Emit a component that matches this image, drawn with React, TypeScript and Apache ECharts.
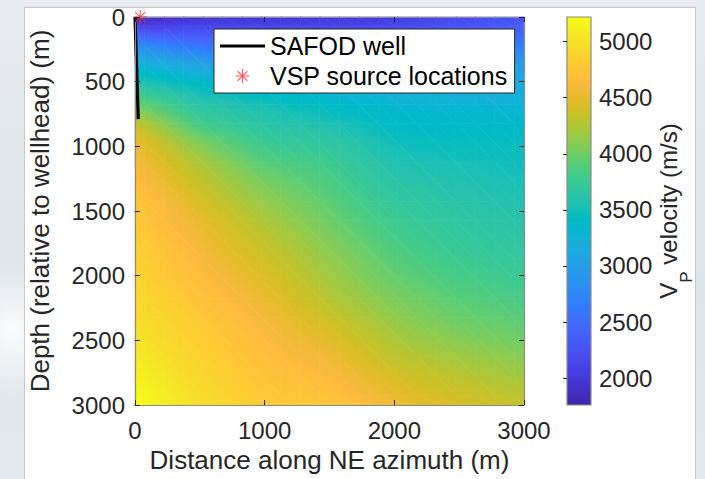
import React, { useEffect, useRef } from "react";
import * as echarts from "echarts";

// ---------- data ----------
// grid nodes (m): plot edges plus sample centres
const xNodes = [0, 75, 225, 375, 525, 675, 825, 975, 1125, 1275, 1425, 1575, 1725, 1875, 2025, 2175, 2325, 2475, 2625, 2775, 2925, 3000];
const depthNodes = [0, 75, 225, 375, 525, 675, 825, 975, 1125, 1275, 1425, 1575, 1725, 1875, 2025, 2175, 2325, 2475, 2625, 2775, 2925, 3000];

// P-wave velocity (m/s): one row per depth node, one column per x node
const velocity: number[][] = [
  [1800, 1850, 1900, 1930, 1950, 1960, 1960, 1960, 1960, 1970, 1970, 1980, 1990, 2000, 2030, 2070, 2110, 2150, 2190, 2220, 2250, 2260],
  [2150, 2100, 2110, 2120, 2120, 2120, 2120, 2110, 2110, 2120, 2120, 2130, 2140, 2150, 2170, 2190, 2220, 2250, 2270, 2300, 2330, 2360],
  [2820, 2780, 2710, 2650, 2590, 2560, 2530, 2500, 2490, 2490, 2490, 2490, 2500, 2510, 2520, 2550, 2570, 2600, 2620, 2650, 2670, 2690],
  [3270, 3240, 3180, 3130, 3080, 3060, 3040, 3010, 3010, 3010, 3010, 3010, 3010, 3010, 3010, 3010, 3010, 3010, 3020, 3020, 3030, 3030],
  [3610, 3580, 3520, 3460, 3400, 3360, 3310, 3260, 3240, 3230, 3210, 3200, 3190, 3180, 3180, 3170, 3170, 3160, 3160, 3150, 3150, 3150],
  [3990, 3930, 3820, 3710, 3610, 3580, 3540, 3510, 3470, 3430, 3400, 3370, 3340, 3320, 3300, 3290, 3290, 3280, 3280, 3270, 3270, 3260],
  [4340, 4250, 4090, 3930, 3790, 3740, 3690, 3630, 3600, 3580, 3550, 3520, 3470, 3430, 3390, 3380, 3370, 3360, 3360, 3350, 3350, 3350],
  [4540, 4460, 4320, 4180, 4050, 3950, 3860, 3770, 3730, 3710, 3690, 3650, 3590, 3530, 3480, 3460, 3450, 3440, 3440, 3440, 3440, 3440],
  [4610, 4550, 4440, 4320, 4210, 4110, 4010, 3910, 3870, 3840, 3800, 3750, 3680, 3610, 3550, 3540, 3520, 3510, 3500, 3490, 3480, 3480],
  [4690, 4630, 4530, 4420, 4310, 4220, 4130, 4050, 3990, 3930, 3880, 3820, 3750, 3680, 3620, 3600, 3580, 3560, 3550, 3530, 3520, 3510],
  [4760, 4710, 4610, 4510, 4410, 4320, 4230, 4150, 4080, 4020, 3960, 3890, 3820, 3750, 3690, 3670, 3640, 3610, 3600, 3580, 3570, 3560],
  [4790, 4740, 4660, 4580, 4500, 4410, 4330, 4250, 4170, 4100, 4030, 3960, 3890, 3820, 3760, 3730, 3700, 3670, 3650, 3630, 3620, 3610],
  [4820, 4780, 4700, 4630, 4550, 4480, 4400, 4330, 4250, 4180, 4100, 4030, 3960, 3890, 3830, 3790, 3750, 3720, 3700, 3680, 3670, 3660],
  [4850, 4810, 4740, 4670, 4610, 4540, 4470, 4400, 4330, 4250, 4170, 4100, 4030, 3960, 3890, 3850, 3810, 3770, 3750, 3730, 3720, 3710],
  [4880, 4840, 4780, 4720, 4660, 4600, 4540, 4480, 4400, 4320, 4240, 4160, 4090, 4020, 3960, 3920, 3880, 3840, 3820, 3800, 3770, 3760],
  [4920, 4890, 4830, 4770, 4710, 4660, 4600, 4540, 4470, 4390, 4310, 4230, 4170, 4100, 4040, 4000, 3950, 3910, 3890, 3870, 3850, 3840],
  [4960, 4930, 4870, 4820, 4760, 4700, 4650, 4590, 4530, 4460, 4400, 4330, 4260, 4190, 4120, 4070, 4030, 3980, 3960, 3940, 3920, 3910],
  [5000, 4970, 4910, 4860, 4800, 4750, 4690, 4640, 4590, 4540, 4490, 4430, 4350, 4280, 4210, 4160, 4120, 4080, 4050, 4030, 4000, 3990],
  [5060, 5030, 4970, 4900, 4840, 4790, 4740, 4690, 4650, 4610, 4570, 4520, 4450, 4370, 4300, 4270, 4230, 4190, 4160, 4130, 4100, 4090],
  [5140, 5100, 5030, 4950, 4880, 4830, 4780, 4730, 4700, 4680, 4650, 4600, 4540, 4470, 4410, 4370, 4330, 4290, 4260, 4240, 4210, 4200],
  [5210, 5170, 5080, 5000, 4920, 4870, 4820, 4770, 4750, 4740, 4720, 4680, 4630, 4570, 4510, 4460, 4420, 4390, 4360, 4330, 4300, 4290],
  [5230, 5190, 5100, 5020, 4940, 4890, 4840, 4790, 4770, 4760, 4750, 4720, 4670, 4610, 4550, 4510, 4480, 4440, 4410, 4380, 4350, 4330],
];

const xTickValues = [0, 1000, 2000, 3000];
const depthTickValues = [0, 500, 1000, 1500, 2000, 2500, 3000];
const colorbarTicks = [2000, 2500, 3000, 3500, 4000, 4500, 5000];
const colorMin = 1760;
const colorMax = 5220;

// SAFOD well trace
const wellX = [0, 25];
const wellDepth = [0, 790];
// VSP source locations
const vspX = [40];
const vspDepth = [0];

// MATLAB parula colormap (64 entries)
const parula = [
  "#3e26a8", "#402ab4", "#422ec0", "#4332cb", "#4537d5", "#463cde", "#4741e5", "#4747eb",
  "#484df0", "#4852f4", "#4758f8", "#465efb", "#4563fd", "#4269fe", "#3e6fff", "#3875fe",
  "#327cfc", "#2f81fa", "#2e87f7", "#2d8cf3", "#2b91ef", "#2797eb", "#259be8", "#23a0e5",
  "#20a5e3", "#1ca9df", "#18addb", "#12b1d6", "#08b5d0", "#01b8ca", "#02bac3", "#0bbdbd",
  "#19bfb6", "#24c1ae", "#2cc4a7", "#31c69f", "#37c897", "#3fca8e", "#4acb84", "#57cc7a",
  "#64cd6f", "#72cd64", "#81cc59", "#8fcb4e", "#9dc943", "#abc739", "#b9c431", "#c5c22a",
  "#d1bf27", "#dcbd29", "#e6bb2d", "#f0ba36", "#f8ba3d", "#febe3c", "#fec338", "#fec934",
  "#fccf30", "#fad62d", "#f7dc2a", "#f5e327", "#f5e924", "#f6ef20", "#f7f51b", "#f9fb15",
];

const FONT = "'Liberation Sans', Arial, Helvetica, sans-serif";
const TEXT = "#262626";
const FRAME = "#8c8c8c";
const ASTERISK =
  "path://M0 9.2H20V10.8H0Z M9.2 0H10.8V20H9.2Z M3.5 2.36L17.64 16.5L16.5 17.64L2.36 3.5Z M16.5 2.36L17.64 3.5L3.5 17.64L2.36 16.5Z";

function hexToRgb(h: string) {
  return [parseInt(h.slice(1, 3), 16), parseInt(h.slice(3, 5), 16), parseInt(h.slice(5, 7), 16)];
}
function colorAt(v: number) {
  const t = Math.max(0, Math.min(1, (v - colorMin) / (colorMax - colorMin))) * (parula.length - 1);
  const i = Math.min(parula.length - 2, Math.floor(t));
  const f = t - i;
  const a = hexToRgb(parula[i]);
  const b = hexToRgb(parula[i + 1]);
  return `rgb(${a.map((c, k) => Math.round(c + (b[k] - c) * f)).join(",")})`;
}

const shadeStops = parula.map((c, i) => ({ offset: i / (parula.length - 1), color: c }));

// linear shading of one triangle (pixel coords + values), mapped through the colormap
function shadedTriangle(p: number[][], v: number[]) {
  const [x1, y1] = p[0], [x2, y2] = p[1], [x3, y3] = p[2];
  const det = (x2 - x1) * (y3 - y1) - (x3 - x1) * (y2 - y1);
  let fill: any;
  if (Math.abs(det) < 1e-9) {
    fill = colorAt(v[0]);
  } else {
    const gx = ((v[1] - v[0]) * (y3 - y1) - (v[2] - v[0]) * (y2 - y1)) / det;
    const gy = ((x2 - x1) * (v[2] - v[0]) - (x3 - x1) * (v[1] - v[0])) / det;
    const g2 = gx * gx + gy * gy;
    if (g2 < 1e-6) {
      fill = colorAt((v[0] + v[1] + v[2]) / 3);
    } else {
      const s = (colorMin - v[0]) / g2;
      const e = (colorMax - v[0]) / g2;
      fill = {
        type: "linear", global: true,
        x: x1 + s * gx, y: y1 + s * gy, x2: x1 + e * gx, y2: y1 + e * gy,
        colorStops: shadeStops,
      };
    }
  }
  return {
    type: "polygon",
    shape: { points: p },
    style: { fill, stroke: fill, lineWidth: 0.7 },
  };
}

function buildOption() {
  const quads: number[][] = [];
  for (let i = 0; i < depthNodes.length - 1; i++) {
    for (let j = 0; j < xNodes.length - 1; j++) {
      quads.push([xNodes[j], depthNodes[i], velocity[i][j], i, j]);
    }
  }
  const wellData = wellX.map((x, i) => [x, wellDepth[i]]);
  const vspData = vspX.map((x, i) => [x, vspDepth[i]]);

  const axisLine = { show: true, onZero: false, lineStyle: { color: FRAME, width: 1.2 } };
  const axisTick = { show: true, inside: true, length: 5, lineStyle: { color: TEXT, width: 1 } };
  const tickLabel = { fontSize: 24, color: TEXT, fontFamily: FONT, formatter: (v: number) => String(v) };

  const barStops = parula
    .map((c, i) => ({ offset: 1 - i / (parula.length - 1), color: c }))
    .reverse();

  return {
    animation: false,
    backgroundColor: "transparent",
    textStyle: { fontFamily: FONT },
    grid: [
      { left: 135, top: 17, width: 389, height: 388 },
      { left: 567, top: 17, width: 24, height: 388 },
    ],
    xAxis: [
      {
        gridIndex: 0, type: "value", min: 0, max: 3000, interval: 1000, position: "bottom", z: 10,
        axisLine, axisTick,
        axisLabel: { ...tickLabel, margin: 13, customValues: xTickValues },
        splitLine: { show: false },
        name: "Distance along NE azimuth (m)", nameLocation: "middle", nameGap: 41,
        nameTextStyle: { fontSize: 26, color: TEXT, lineHeight: 26, fontFamily: FONT },
      },
      {
        gridIndex: 0, type: "value", min: 0, max: 3000, interval: 1000, position: "top", z: 10,
        axisLine, axisTick, axisLabel: { show: false }, splitLine: { show: false },
      },
      { gridIndex: 1, type: "value", min: 0, max: 1, show: false },
    ],
    yAxis: [
      {
        gridIndex: 0, type: "value", inverse: true, min: 0, max: 3000, interval: 500, position: "left", z: 10,
        axisLine, axisTick,
        axisLabel: { ...tickLabel, margin: 10, customValues: depthTickValues },
        splitLine: { show: false },
        name: "Depth (relative to wellhead) (m)", nameLocation: "middle", nameRotate: 90, nameGap: 82,
        nameTextStyle: { fontSize: 26, color: TEXT, lineHeight: 26, fontFamily: FONT },
      },
      {
        gridIndex: 0, type: "value", inverse: true, min: 0, max: 3000, interval: 500, position: "right", z: 10,
        axisLine, axisTick, axisLabel: { show: false }, splitLine: { show: false },
      },
      {
        gridIndex: 1, type: "value", min: colorMin, max: colorMax, position: "right", z: 10,
        axisLine: { show: false },
        axisTick: { show: true, inside: true, length: 4, lineStyle: { color: TEXT }, customValues: colorbarTicks },
        axisLabel: { ...tickLabel, margin: 8, customValues: colorbarTicks },
        splitLine: { show: false },
        name: "{v|V}{p|P}{v| velocity (m/s)}",
        nameLocation: "middle", nameRotate: 90, nameGap: 65,
        nameTextStyle: {
          color: TEXT, fontFamily: FONT,
          rich: {
            v: { fontSize: 24, lineHeight: 28, verticalAlign: "top", color: TEXT, fontFamily: FONT },
            p: { fontSize: 17, lineHeight: 17, padding: [22, 0, 0, 0], verticalAlign: "top", color: TEXT, fontFamily: FONT },
          },
        },
      },
    ],
    legend: {
      data: [
        { name: "SAFOD well", icon: "path://M0 0H45V3H0Z" },
        { name: "VSP source locations" },
      ],
      orient: "vertical", left: 214, top: 29,
      itemWidth: 45, itemHeight: 14, itemGap: 2, padding: [3, 7, 3, 6],
      backgroundColor: "#ffffff", borderColor: TEXT, borderWidth: 1, borderRadius: 0,
      selectedMode: false,
      textStyle: { fontSize: 25, color: "#000", lineHeight: 28, fontFamily: FONT },
    },
    series: [
      {
        name: "velocity", type: "custom", coordinateSystem: "cartesian2d", xAxisIndex: 0, yAxisIndex: 0, z: 1,
        data: quads,
        renderItem: (params: any, api: any) => {
          const i = api.value(3);
          const j = api.value(4);
          const tl = api.coord([xNodes[j], depthNodes[i]]);
          const tr = api.coord([xNodes[j + 1], depthNodes[i]]);
          const bl = api.coord([xNodes[j], depthNodes[i + 1]]);
          const br = api.coord([xNodes[j + 1], depthNodes[i + 1]]);
          const vtl = velocity[i][j], vtr = velocity[i][j + 1];
          const vbl = velocity[i + 1][j], vbr = velocity[i + 1][j + 1];
          return {
            type: "group",
            children: [
              shadedTriangle([tl, tr, br], [vtl, vtr, vbr]),
              shadedTriangle([tl, br, bl], [vtl, vbr, vbl]),
            ],
          };
        },
      },
      {
        name: "colorbar", type: "custom", coordinateSystem: "cartesian2d", xAxisIndex: 2, yAxisIndex: 2, z: 1,
        data: [[0, colorMin, colorMax]],
        renderItem: (params: any, api: any) => {
          const top = api.coord([0, colorMax]);
          const bottom = api.coord([1, colorMin]);
          return {
            type: "rect",
            shape: { x: top[0], y: top[1], width: bottom[0] - top[0], height: bottom[1] - top[1] },
            style: {
              fill: { type: "linear", x: 0, y: 0, x2: 0, y2: 1, colorStops: barStops },
              stroke: FRAME, lineWidth: 1.2,
            },
          };
        },
      },
      {
        name: "SAFOD well", type: "line", xAxisIndex: 0, yAxisIndex: 0, z: 5,
        data: wellData, symbol: "none",
        lineStyle: { color: "#000000", width: 3.2 }, itemStyle: { color: "#000000" },
      },
      {
        name: "VSP source locations", type: "scatter", xAxisIndex: 0, yAxisIndex: 0, z: 6, clip: false,
        data: vspData, symbol: ASTERISK, symbolSize: 14, symbolKeepAspect: true,
        itemStyle: { color: "#ff2a2a" },
      },
    ],
  };
}

export default function App() {
  const ref = useRef<HTMLDivElement>(null);
  useEffect(() => {
    if (!ref.current) return;
    const chart = echarts.init(ref.current, undefined, { renderer: "svg" });
    chart.setOption(buildOption() as any);
    return () => chart.dispose();
  }, []);
  return (
    <div
      style={{
        position: "absolute", left: 0, top: 0, width: 705, height: 479, overflow: "hidden",
        background:
          "radial-gradient(circle at 12px 330px, rgba(255,255,255,0.85), rgba(255,255,255,0) 70px), linear-gradient(180deg, #e8ebef 0%, #dde4ea 60%, #e4e9ee 100%)",
      }}
    >
      <div
        style={{
          position: "absolute", left: 24, top: 7, width: 670, height: 480,
          background: "#ffffff", border: "1px solid #c9c9c9",
        }}
      />
      <div ref={ref} style={{ position: "absolute", left: 0, top: 0, width: 705, height: 479 }} />
    </div>
  );
}
